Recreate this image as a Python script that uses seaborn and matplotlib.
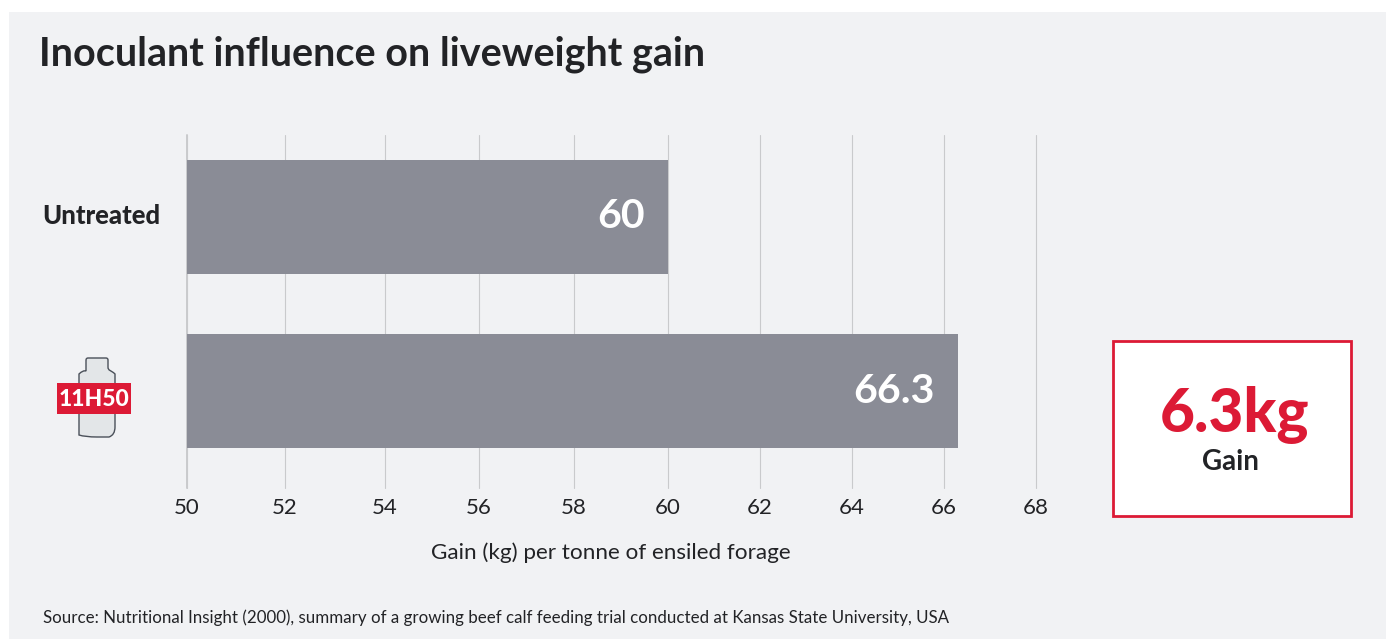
"""Inoculant influence on liveweight gain, horizontal bars with a gain callout."""
import matplotlib

matplotlib.use("Agg")
import matplotlib.pyplot as plt
import numpy as np
import pandas as pd
import seaborn as sns
from matplotlib.patches import PathPatch, Rectangle
from matplotlib.path import Path

TREATMENTS = ["Untreated", "11H50"]
GAIN = [60, 66.3]
TICKS = [50, 52, 54, 56, 58, 60, 62, 64, 66, 68]
# the original axis is slightly uneven, these are the tick positions in pixels
TICK_PIXELS = [187, 285, 385, 479, 574, 668, 760, 852, 944, 1036]

TITLE = "Inoculant influence on liveweight gain"
XLABEL = "Gain (kg) per tonne of ensiled forage"
SOURCE = "Source: Nutritional Insight (2000), summary of a growing beef calf feeding trial conducted at Kansas State University, USA"
CALLOUT = "6.3kg"
CALLOUT_LABEL = "Gain"

W, H = 1389, 639
PANEL = "#f1f2f4"
BAR = "#8a8c96"
GRID = "#c9cacc"
RED = "#dc1a35"
INK = "#222326"

# anchors run past both ends so the bars, which start at 0, stay finite on this scale
SCALE_X = [0, *TICKS, 100]
SCALE_PX = [TICK_PIXELS[0] - 25 * 98, *TICK_PIXELS, TICK_PIXELS[-1] + 16 * 92]


def forward(x):
    return np.interp(x, SCALE_X, SCALE_PX)


def inverse(px):
    return np.interp(px, SCALE_PX, SCALE_X)


def bottle(cx, top, bottom):
    """Outline of the product bottle, in overlay pixels."""
    neck, body, shoulder = 11, 18, top + 16
    verts = [
        (cx - neck, top + 2), (cx - neck, top), (cx - neck + 2, top), (cx + neck - 2, top),
        (cx + neck, top), (cx + neck, top + 2), (cx + neck, shoulder - 7),
        (cx + neck, shoulder - 3), (cx + body - 4, shoulder - 4), (cx + body, shoulder),
        (cx + body, shoulder + 3), (cx + body, shoulder + 10), (cx + body, bottom - 10),
        (cx + body, bottom - 2), (cx + body - 6, bottom), (cx, bottom),
        (cx - body + 6, bottom), (cx - body, bottom - 2), (cx - body, bottom - 10),
        (cx - body, shoulder + 10), (cx - body, shoulder + 3), (cx - body, shoulder),
        (cx - body + 4, shoulder - 4), (cx - neck, shoulder - 3), (cx - neck, shoulder - 7),
        (cx - neck, top + 2),
    ]
    codes = [
        Path.MOVETO, Path.CURVE3, Path.CURVE3, Path.LINETO, Path.CURVE3, Path.CURVE3, Path.LINETO,
        Path.CURVE4, Path.CURVE4, Path.CURVE4, Path.CURVE3, Path.CURVE3, Path.LINETO,
        Path.CURVE3, Path.CURVE3, Path.LINETO, Path.CURVE3, Path.CURVE3, Path.LINETO,
        Path.LINETO, Path.CURVE3, Path.CURVE3, Path.CURVE3, Path.CURVE3, Path.LINETO, Path.LINETO,
    ]
    return Path(verts, codes)


def main():
    sns.set_theme(style="white")
    plt.rcParams["font.family"] = ["Lato", "DejaVu Sans"]
    fig = plt.figure(figsize=(W / 100, H / 100), dpi=100, facecolor="white")

    # pixel-space overlay for the panel, icon and callout
    over = fig.add_axes([0, 0, 1, 1], zorder=0)
    over.set_xlim(0, W)
    over.set_ylim(H, 0)
    over.axis("off")
    over.add_patch(Rectangle((9, 12), 1377, 627, facecolor=PANEL, edgecolor="none"))

    ax = fig.add_axes([187 / W, 1 - 488 / H, (1036 - 187) / W, (488 - 135) / H], zorder=1)
    ax.patch.set_alpha(0)
    ax.set_xscale("function", functions=(forward, inverse))
    df = pd.DataFrame({"treatment": TREATMENTS, "gain": GAIN})
    sns.barplot(data=df, x="gain", y="treatment", order=TREATMENTS, color=BAR, saturation=1,
                width=0.655, linewidth=0, edgecolor="none", zorder=3, ax=ax)
    ax.set_xlim(TICKS[0], TICKS[-1])
    ax.set_ylim(1.557, -0.471)
    ax.set_xticks(TICKS)
    ax.set_xticklabels([str(t) for t in TICKS], fontsize=16, color=INK)
    ax.minorticks_off()
    ax.tick_params(axis="x", length=0, pad=7)
    ax.tick_params(axis="y", length=0, labelleft=False)
    ax.xaxis.grid(True, color=GRID, linewidth=0.8)
    for line in ax.get_xgridlines():
        line.set_clip_on(False)
    ax.set_axisbelow(True)
    sns.despine(ax=ax, top=True, right=True, bottom=True, left=True)
    ax.set_xlabel(XLABEL, fontsize=16.2, color=INK)
    ax.xaxis.set_label_coords((611 - 187) / (1036 - 187), -(553 - 488) / (488 - 135), transform=ax.transAxes)
    ax.xaxis.label.set_verticalalignment("center")
    ax.set_ylabel("")
    ax.axvline(TICKS[0], color=GRID, linewidth=1.4, zorder=2, clip_on=False)

    for i, value in enumerate(GAIN):
        ax.annotate(f"{value:g}", xy=(value, i), xytext=(-17, 0), textcoords="offset points",
                    ha="right", va="center", color="white", fontsize=29.5, fontweight="bold", zorder=4)

    # y labels: plain text for the control, bottle badge for the product
    over.text(160, 216, TREATMENTS[0], ha="right", va="center", fontsize=18.5, fontweight="black", color=INK)
    over.add_patch(PathPatch(bottle(97, 358, 437), facecolor="#e3e6e8", edgecolor="#4a5059", linewidth=1))
    over.add_patch(Rectangle((57, 383), 74, 31, facecolor=RED, edgecolor="none", zorder=3))
    over.text(94, 399, TREATMENTS[1], ha="center", va="center", fontsize=16.5, fontweight="black",
              color="white", zorder=4)

    over.text(39, 54, TITLE, ha="left", va="center", fontsize=28.45, fontweight="bold", color=INK)
    over.text(43, 618, SOURCE, ha="left", va="center", fontsize=12.2, color=INK)

    over.add_patch(Rectangle((1112.5, 340.5), 238, 175.5, facecolor="white", edgecolor=RED, linewidth=2))
    over.text(1234, 415, CALLOUT, ha="center", va="center", fontsize=43.5, fontweight="black", color=RED)
    over.text(1230, 462, CALLOUT_LABEL, ha="center", va="center", fontsize=20, fontweight="bold", color=INK)

    fig.savefig("out.png", dpi=100, facecolor="white")
    plt.close(fig)


if __name__ == "__main__":
    main()
